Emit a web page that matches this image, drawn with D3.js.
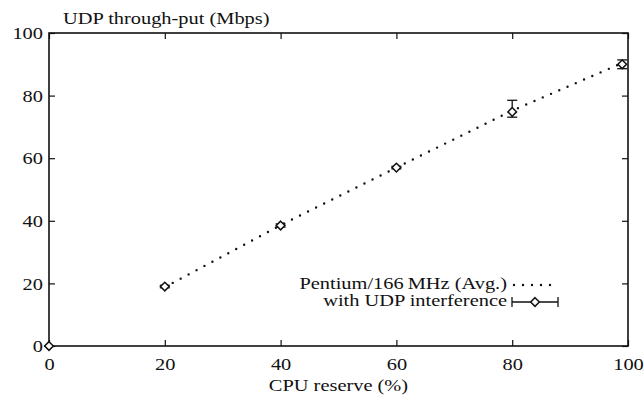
<!DOCTYPE html>
<html>
<head>
<meta charset="utf-8">
<script src="https://cdn.jsdelivr.net/npm/d3@7"></script>
<style>
  body { margin: 0; background: #fff; }
  text { font-family: "Liberation Serif", "DejaVu Serif", serif; fill: #111; }
</style>
</head>
<body>
<svg id="chart" width="644" height="399"></svg>
<script>
// Data
var cpuReserve = [0, 20, 40, 60, 80, 99];
var udpMean    = [0, 19, 38.5, 57, 74.8, 90];
var udpLow     = [0, 18.6, 38, 56.6, 73.1, 88.6];
var udpHigh    = [0, 19.4, 39, 57.4, 78.5, 91.4];
var avgX       = [20, 40, 60, 80, 99];
var avgY       = [18.8, 38.6, 57, 75.2, 90.4];
var xTicks     = [0, 20, 40, 60, 80, 100];
var yTicks     = [0, 20, 40, 60, 80, 100];

var svg = d3.select("#chart");
var plot = { left: 49, right: 628, top: 33, bottom: 346 };
var fs = 17, sx = 1.2;   // font is stretched sideways in the scan

var x = d3.scaleLinear().domain([0, 100]).range([plot.left, plot.right]);
var y = d3.scaleLinear().domain([0, 100]).range([plot.bottom, plot.top]);

// frame
svg.append("rect")
    .attr("x", plot.left).attr("y", plot.top)
    .attr("width", plot.right - plot.left).attr("height", plot.bottom - plot.top)
    .attr("fill", "none").attr("stroke", "#111").attr("stroke-width", 1.6);

// inward ticks on all four sides
function ticks(axis, pos) {
    var g = svg.append("g").attr("transform", pos).call(axis);
    g.select(".domain").remove();
    g.selectAll("line").attr("stroke", "#111").attr("stroke-width", 1.2);
    g.selectAll("text").attr("font-size", fs)
        .attr("font-family", "Liberation Serif").attr("fill", "#111");
    return g;
}
var gb = ticks(d3.axisBottom(x).tickValues(xTicks).tickSizeInner(-6).tickPadding(0), "translate(0," + plot.bottom + ")");
gb.selectAll("text").attr("dy", null).attr("y", 24).attr("transform", "scale(" + sx + ",1)");
ticks(d3.axisTop(x).tickValues(xTicks).tickSizeInner(-6).tickFormat(""), "translate(0," + plot.top + ")");
var gl = ticks(d3.axisLeft(y).tickValues(yTicks).tickSizeInner(-6).tickPadding(0), "translate(" + plot.left + ",0)");
gl.selectAll("text").attr("x", -6 / sx).attr("dy", "0.34em").attr("transform", "scale(" + sx + ",1)");
ticks(d3.axisRight(y).tickValues(yTicks).tickSizeInner(-6).tickFormat(""), "translate(" + plot.right + ",0)");

function label(px, py, anchor, str) {
    return svg.append("text")
        .attr("transform", "translate(" + px + "," + py + ") scale(" + sx + ",1)")
        .attr("text-anchor", anchor).attr("font-size", fs).text(str);
}

// axis titles
label(63, 24, "start", "UDP through-put (Mbps)");
label((plot.left + plot.right) / 2, 391, "middle", "CPU reserve (%)");

// dotted average line
var avg = avgX.map(function(d, i) { return [d, avgY[i]]; });
svg.append("path")
    .datum(avg)
    .attr("d", d3.line().x(function(d) { return x(d[0]); }).y(function(d) { return y(d[1]); }))
    .attr("fill", "none").attr("stroke", "#111").attr("stroke-width", 2.4)
    .attr("stroke-linecap", "round").attr("stroke-dasharray", "0 9");

// error bars + diamonds
var pts = cpuReserve.map(function(d, i) {
    return { x: d, m: udpMean[i], lo: udpLow[i], hi: udpHigh[i] };
});
var diamond = d3.symbol().type(d3.symbolDiamond2).size(48);
var eg = svg.append("g").selectAll("g").data(pts).join("g");
eg.append("line")
    .attr("x1", function(d) { return x(d.x); }).attr("x2", function(d) { return x(d.x); })
    .attr("y1", function(d) { return y(d.lo); }).attr("y2", function(d) { return y(d.hi); })
    .attr("stroke", "#111").attr("stroke-width", 1.3);
["lo", "hi"].forEach(function(k) {
    eg.append("line")
        .attr("x1", function(d) { return x(d.x) - 5; }).attr("x2", function(d) { return x(d.x) + 5; })
        .attr("y1", function(d) { return y(d[k]); }).attr("y2", function(d) { return y(d[k]); })
        .attr("stroke", "#111").attr("stroke-width", 1.3);
});
eg.append("path")
    .attr("d", diamond)
    .attr("transform", function(d) { return "translate(" + x(d.x) + "," + y(d.m) + ")"; })
    .attr("fill", "#fff").attr("stroke", "#111").attr("stroke-width", 1.5);

// legend
label(507, 289, "end", "Pentium/166\u2009MHz (Avg.)");
label(507, 306, "end", "with UDP interference");
var lg = svg.append("g");
lg.append("line").attr("x1", 514).attr("x2", 558).attr("y1", 285).attr("y2", 285)
    .attr("stroke", "#111").attr("stroke-width", 2.4)
    .attr("stroke-linecap", "round").attr("stroke-dasharray", "0 9");
lg.append("line").attr("x1", 512).attr("x2", 558).attr("y1", 302).attr("y2", 302)
    .attr("stroke", "#111").attr("stroke-width", 1.3);
[512, 558].forEach(function(px) {
    lg.append("line").attr("x1", px).attr("x2", px).attr("y1", 297).attr("y2", 307)
        .attr("stroke", "#111").attr("stroke-width", 1.3);
});
lg.append("path").attr("d", diamond).attr("transform", "translate(535,302)")
    .attr("fill", "#fff").attr("stroke", "#111").attr("stroke-width", 1.5);
</script>
</body>
</html>
